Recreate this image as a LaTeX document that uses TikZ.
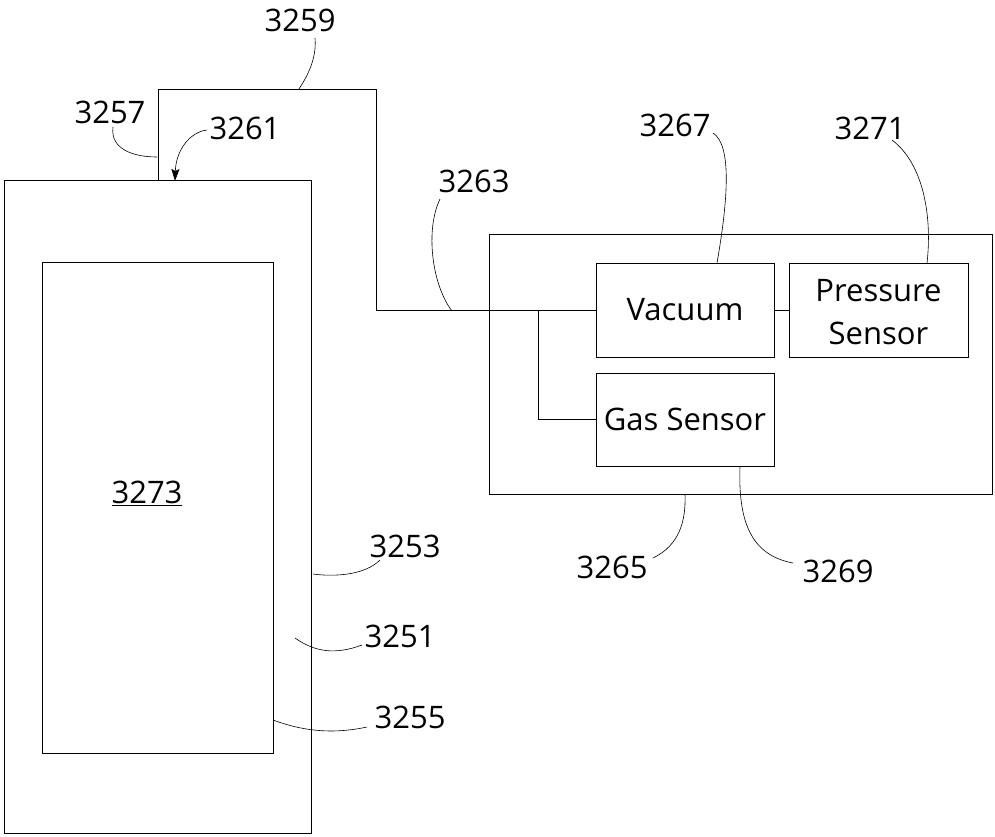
\documentclass[tikz,border=0pt]{standalone}
\usepackage{fontspec}
\setmainfont{Open Sans}
\usetikzlibrary{arrows.meta}
\begin{document}
\begin{tikzpicture}[x=1pt,y=-1pt,
  line/.style={line width=0.7pt,black},
  lead/.style={line width=0.6pt,black},
  box/.style={line,draw,rectangle,inner sep=0pt},
  lbl/.style={font=\fontsize{31}{34}\selectfont,inner sep=0pt},
  txt/.style={font=\fontsize{31}{43}\selectfont,align=center,inner sep=0pt}]
\useasboundingbox (0,0) rectangle (995,836);
% container and inner space
\node[box,minimum width=307,minimum height=653] (outer) at (157.5,506.5) {};
\node[box,minimum width=231,minimum height=491] (inner) at (157.5,507.5) {};
\node[lbl] (l3273) at (147,493) {\underline{3273}};
% sensor housing
\node[box,minimum width=503,minimum height=260] (housing) at (740.5,364) {};
\node[box,minimum width=178,minimum height=94] (vac) at (685,310) {};
\node[txt] at (vac) {Vacuum};
\node[box,minimum width=179,minimum height=94] (pres) at (878.5,310) {};
\node[txt] at (878.5,312) {Pressure\\Sensor};
\node[box,minimum width=178,minimum height=93] (gas) at (685,419.5) {};
\node[txt] at (gas) {Gas Sensor};
% pipe
\coordinate (p0) at (158,180);
\coordinate (p1) at (376,89);
\coordinate (br) at (538,310);
\draw[line] (p0) |- (p1) |- (vac.west);
\draw[line] (br) |- (gas.west);
\draw[line] (vac.east) -- (pres.west);
% labels
\node[lbl] (l3259) at (300,20) {3259};
\node[lbl] (l3257) at (110,112) {3257};
\node[lbl] (l3261) at (245,128) {3261};
\node[lbl] (l3263) at (474,181) {3263};
\node[lbl] (l3267) at (675,125) {3267};
\node[lbl] (l3271) at (870,128) {3271};
\node[lbl] (l3265) at (612,567) {3265};
\node[lbl] (l3269) at (838,571) {3269};
\node[lbl] (l3253) at (405,546) {3253};
\node[lbl] (l3251) at (400,636) {3251};
\node[lbl] (l3255) at (410,717) {3255};
% leaders
\coordinate (a3259) at (299,89);
\coordinate (a3257) at (157,157);
\coordinate (a3261) at (175,181);
\coordinate (a3263) at (452,311);
\coordinate (a3267) at (717,263);
\coordinate (a3271) at (927,263);
\coordinate (a3265) at (685,494);
\coordinate (a3269) at (740,466);
\coordinate (a3253) at (313,574);
\coordinate (a3251) at (295,638);
\coordinate (a3255) at (273,720);
\draw[lead] (315,38) .. controls (317,60) and (306,78) .. (a3259);
\draw[lead] (113,127) .. controls (110,150) and (135,157) .. (a3257);
\draw[lead,-{Stealth[length=12pt,width=8pt,inset=2pt]}] (207,130) .. controls (190,132) and (176,150) .. (a3261);
\draw[lead] (440,199) .. controls (425,230) and (432,285) .. (a3263);
\draw[lead] (713,133) .. controls (732,145) and (728,200) .. (a3267);
\draw[lead] (892,140) .. controls (925,165) and (932,220) .. (a3271);
\draw[lead] (653,558) .. controls (680,545) and (686,520) .. (a3265);
\draw[lead] (793,563) .. controls (750,555) and (738,520) .. (a3269);
\draw[lead] (380,560) .. controls (365,575) and (335,577) .. (a3253);
\draw[lead] (362,645) .. controls (335,655) and (315,652) .. (a3251);
\draw[lead] (367,727) .. controls (330,735) and (300,730) .. (a3255);
\end{tikzpicture}
\end{document}
